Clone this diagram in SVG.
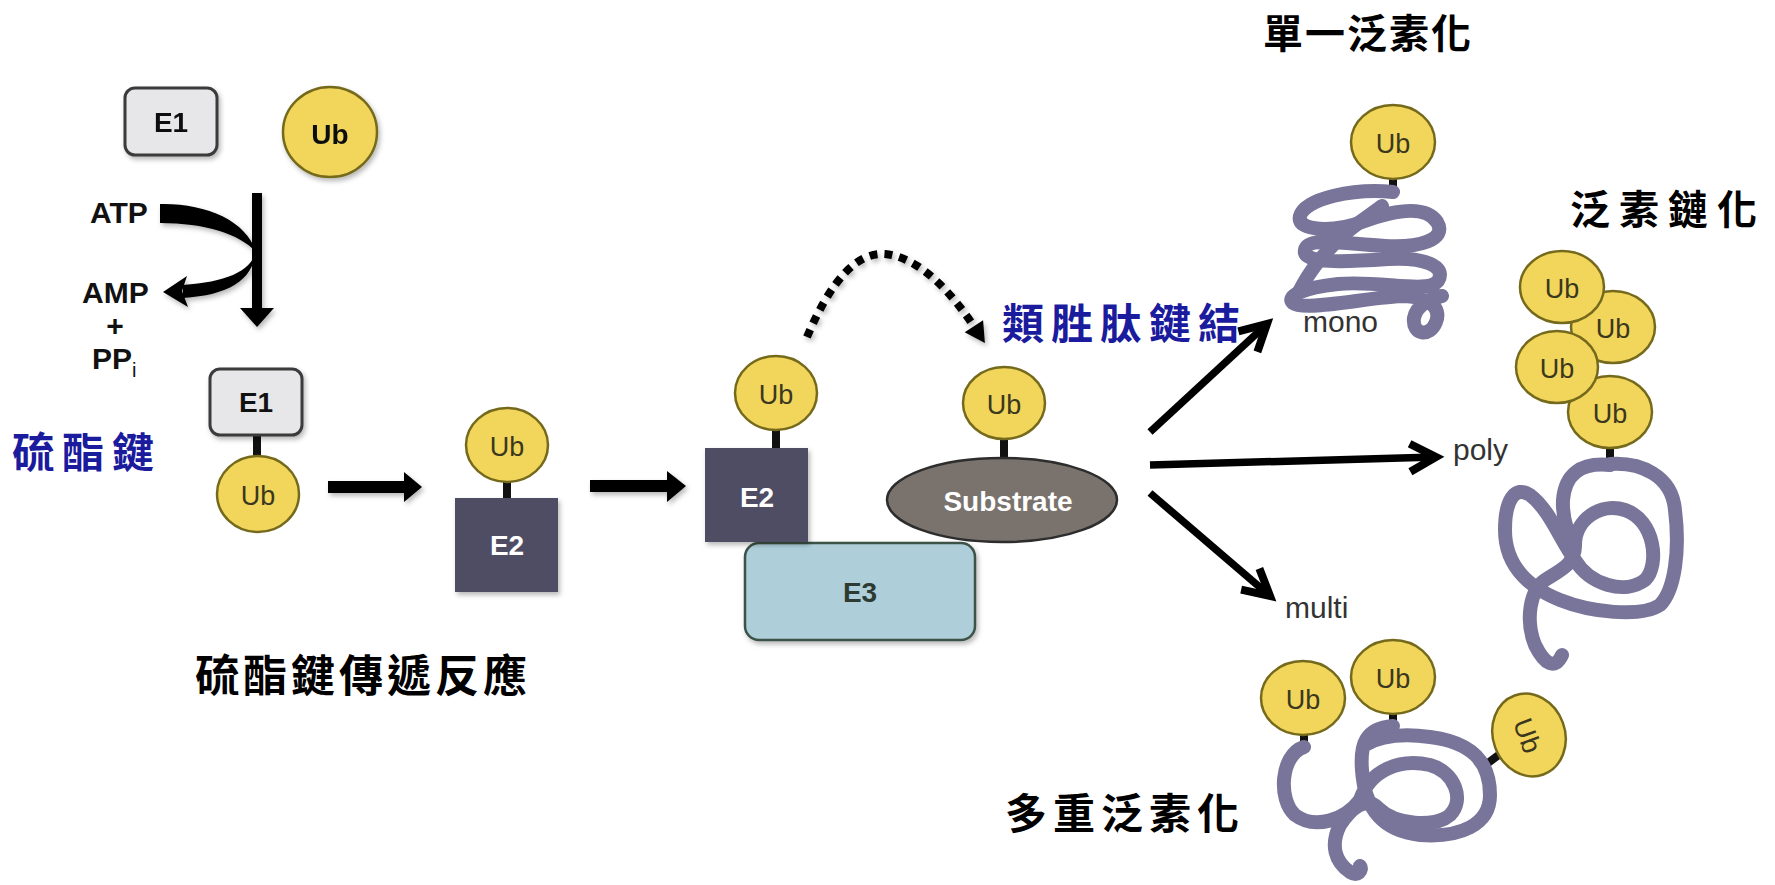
<svg xmlns="http://www.w3.org/2000/svg" width="1775" height="885" viewBox="0 0 1775 885">
  <style>
    .ub{fill:#f2d65c;stroke:#756a1c;stroke-width:2.5}
    .ubt{font-family:"Liberation Sans",Arial,sans-serif;font-size:27px;fill:#3b381e;text-anchor:middle;dominant-baseline:central}
    .stub{stroke:#111;stroke-width:8}
    .e1{fill:#e7e7e9;stroke:#3a3a3a;stroke-width:3}
    .e2{fill:#4f4d64}
    .lbl{font-family:"Liberation Sans",Arial,sans-serif;font-weight:bold;font-size:28px;text-anchor:middle;dominant-baseline:central}
    .chem{font-family:"Liberation Sans",Arial,sans-serif;font-weight:bold;font-size:30px;fill:#111}
    .coil{fill:none;stroke:#79759a;stroke-width:14;stroke-linecap:round;stroke-linejoin:round}
    .cjk{font-family:"Noto Sans CJK TC","Noto Sans CJK SC",sans-serif;font-weight:bold;fill:#000}
    .blue{fill:#1b1b9e}
    .thin{font-family:"Liberation Sans",Arial,sans-serif;font-size:30px;fill:#333}
    .branch{stroke:#000;stroke-width:7.5;fill:none;marker-end:url(#chev)}
  </style>
  <defs>
    <filter id="sh" x="-20%" y="-20%" width="140%" height="150%">
      <feDropShadow dx="2" dy="3" stdDeviation="2.5" flood-color="#000" flood-opacity="0.28"/>
    </filter>
    <marker id="chev" markerUnits="userSpaceOnUse" orient="auto" overflow="visible" refX="0" refY="0" markerWidth="1" markerHeight="1">
      <path d="M-26,-14 L0,0 L-26,14" fill="none" stroke="#000" stroke-width="8"/>
    </marker>
    <marker id="tri" markerUnits="userSpaceOnUse" orient="auto" overflow="visible" refX="0" refY="0" markerWidth="1" markerHeight="1">
      <path d="M-2,-11 L18,0 L-2,11 Z" fill="#000"/>
    </marker>
  </defs>

  <rect width="1775" height="885" fill="#fff"/>

  <!-- free E1 enzyme -->
  <g id="e1-free" filter="url(#sh)">
    <rect class="e1" x="125" y="88" width="92" height="67" rx="10"/>
    <text class="lbl" x="171" y="122" fill="#111">E1</text>
  </g>

  <!-- free ubiquitin -->
  <g id="ub-free" filter="url(#sh)">
    <ellipse class="ub" cx="330" cy="132" rx="47" ry="45"/>
    <text class="lbl" x="330" y="134" font-size="30" fill="#111">Ub</text>
  </g>

  <!-- ATP consumption labels -->
  <g id="atp-labels">
    <text class="chem" x="90" y="223">ATP</text>
    <text class="chem" x="82" y="303">AMP</text>
    <text class="chem" x="115" y="336" font-size="28" text-anchor="middle">+</text>
    <text class="chem" x="92" y="369">PP<tspan font-size="20" font-weight="normal" dy="8">i</tspan></text>
  </g>

  <!-- E1 thioester with Ub -->
  <g id="e1-ub">
    <line class="stub" x1="257" y1="434" x2="257" y2="458"/>
    <rect class="e1" x="210" y="369" width="92" height="66" rx="10" filter="url(#sh)"/>
    <text class="lbl" x="256" y="402" fill="#111">E1</text>
    <ellipse class="ub" cx="258" cy="494" rx="41" ry="38"/>
    <text class="ubt" x="258" y="496">Ub</text>
  </g>

  <!-- E2 carrying Ub -->
  <g id="e2-ub">
    <line class="stub" x1="507" y1="480" x2="507" y2="500"/>
    <ellipse class="ub" cx="507" cy="445" rx="41" ry="37"/>
    <text class="ubt" x="507" y="447">Ub</text>
    <rect class="e2" x="455" y="498" width="103" height="94" filter="url(#sh)"/>
    <text class="lbl" x="507" y="545" fill="#fff">E2</text>
  </g>

  <!-- E2~Ub bound to E3 -->
  <g id="e2-e3">
    <rect x="745" y="543" width="230" height="97" rx="14" fill="#aecfda" stroke="#3d5247" stroke-width="2.5" filter="url(#sh)"/>
    <text class="lbl" x="860" y="592" fill="#2e3b32">E3</text>
    <line class="stub" x1="776" y1="428" x2="776" y2="450"/>
    <ellipse class="ub" cx="776" cy="393" rx="41" ry="37"/>
    <text class="ubt" x="776" y="395">Ub</text>
    <rect class="e2" x="705" y="448" width="103" height="94" filter="url(#sh)"/>
    <text class="lbl" x="757" y="497" fill="#fff">E2</text>
  </g>

  <!-- substrate with attached Ub -->
  <g id="substrate">
    <line class="stub" x1="1004" y1="437" x2="1004" y2="460"/>
    <ellipse class="ub" cx="1004" cy="403" rx="41" ry="36"/>
    <text class="ubt" x="1004" y="405">Ub</text>
    <ellipse cx="1002" cy="500" rx="115" ry="42" fill="#7a736d" stroke="#2d2d2d" stroke-width="2.5"/>
    <text class="lbl" x="1008" y="501" font-size="31" fill="#fff">Substrate</text>
  </g>

  <!-- monoubiquitination -->
  <g id="mono">
    <line class="stub" x1="1393" y1="177" x2="1393" y2="196"/>
    <ellipse class="ub" cx="1393" cy="142" rx="42" ry="37"/>
    <text class="ubt" x="1393" y="144">Ub</text>
    <path class="coil" d="M1393,192 C1355,188 1305,198 1300,216 C1296,232 1335,232 1362,222 C1392,211 1425,204 1437,222 C1448,240 1418,248 1385,246 C1345,244 1308,236 1305,250 C1302,264 1345,262 1388,259 C1424,257 1447,266 1438,281 C1428,294 1380,280 1338,284 C1302,288 1286,296 1293,303 C1304,312 1375,296 1405,296 C1428,297 1442,307 1436,322 C1430,338 1412,335 1414,318 C1416,306 1430,298 1442,296"/>
    <path class="coil" d="M1300,290 C1310,270 1322,256 1340,238 C1355,224 1372,214 1382,206"/>
    <text class="thin" x="1303" y="332">mono</text>
  </g>

  <!-- polyubiquitin chain -->
  <g id="poly">
    <line class="stub" x1="1610" y1="446" x2="1610" y2="466"/>
    <path class="coil" d="M1610,465 C1580,462 1565,475 1563,500 C1562,520 1570,540 1575,545"/>
    <path class="coil" d="M1610,464 C1640,462 1672,475 1675,510 C1680,550 1675,590 1660,605 C1640,618 1590,612 1560,600 C1535,590 1505,570 1505,530 C1505,500 1515,485 1530,495 C1550,510 1560,540 1575,560 C1590,585 1625,595 1645,580 C1660,565 1655,520 1625,510 C1600,502 1575,520 1575,545 C1575,565 1560,570 1545,580 C1530,590 1525,620 1535,645 C1545,665 1555,670 1562,655"/>
    <ellipse class="ub" cx="1610" cy="412" rx="42" ry="36"/>
    <text class="ubt" x="1610" y="414">Ub</text>
    <ellipse class="ub" cx="1613" cy="327" rx="42" ry="36"/>
    <text class="ubt" x="1613" y="329">Ub</text>
    <ellipse class="ub" cx="1557" cy="367" rx="41" ry="36"/>
    <text class="ubt" x="1557" y="369">Ub</text>
    <ellipse class="ub" cx="1562" cy="287" rx="42" ry="36"/>
    <text class="ubt" x="1562" y="289">Ub</text>
    <text class="thin" x="1453" y="460">poly</text>
  </g>

  <!-- multi-monoubiquitination -->
  <g id="multi">
    <line class="stub" x1="1304" y1="733" x2="1304" y2="750"/>
    <line class="stub" x1="1393" y1="712" x2="1393" y2="729"/>
    <line class="stub" x1="1484" y1="766" x2="1500" y2="754"/>
    <path class="coil" d="M1304,747 C1280,755 1278,800 1295,815 C1315,830 1345,820 1360,800"/>
    <path class="coil" d="M1393,726 C1365,728 1360,745 1362,770 C1364,800 1375,830 1420,835 C1460,838 1490,825 1490,795 C1490,760 1470,742 1430,737 C1400,733 1380,736 1365,745"/>
    <path class="coil" d="M1360,800 C1370,770 1400,758 1430,765 C1455,772 1465,800 1450,815 C1435,828 1395,825 1378,808 C1365,795 1350,810 1340,825 C1330,845 1335,862 1350,872 C1358,877 1363,870 1360,866"/>
    <ellipse class="ub" cx="1303" cy="698" rx="42" ry="37"/>
    <text class="ubt" x="1303" y="700">Ub</text>
    <ellipse class="ub" cx="1393" cy="677" rx="42" ry="37"/>
    <text class="ubt" x="1393" y="679">Ub</text>
    <g transform="translate(1529,735) rotate(70)">
      <ellipse class="ub" cx="0" cy="0" rx="42" ry="36"/>
      <text class="ubt" x="0" y="2">Ub</text>
    </g>
    <text class="thin" x="1285" y="618">multi</text>
  </g>

  <!-- connectors -->
  <g id="connectors">
    <!-- ATP → AMP + PPi bent arrow -->
    <g filter="url(#sh)">
      <path d="M160,204 C205,203 246,220 256,252 C240,234 205,223 160,223 Z" fill="#000"/>
      <path d="M256,252 C250,272 225,282 183,285 L183,298 C228,295 252,281 256,252 Z" fill="#000"/>
      <path d="M163,292 L187,276 L182,291 L188,307 Z" fill="#000"/>
      <rect x="252" y="193" width="10" height="118" fill="#000"/>
      <path d="M240,308 L274,308 L257,327 Z" fill="#000"/>
      <!-- E1~Ub → E2~Ub -->
      <rect x="328" y="481" width="78" height="12" fill="#000"/>
      <path d="M404,472 L422,487 L404,502 Z" fill="#000"/>
      <!-- E2~Ub → E2/E3 -->
      <rect x="590" y="480" width="79" height="12" fill="#000"/>
      <path d="M667,471 L686,486 L667,502 Z" fill="#000"/>
    </g>
    <!-- Ub transfer onto substrate -->
    <path d="M807,337 C832,278 858,252 885,254 C918,257 950,290 975,328" fill="none" stroke="#000" stroke-width="8" stroke-dasharray="8 7" marker-end="url(#tri)" filter="url(#sh)"/>
    <!-- outcome branches -->
    <line class="branch" x1="1150" y1="432" x2="1267" y2="324"/>
    <line class="branch" x1="1150" y1="465" x2="1436" y2="457"/>
    <line class="branch" x1="1150" y1="493" x2="1270" y2="596"/>
  </g>

  <!-- captions -->
  <g id="captions">
    <text class="cjk blue" x="12" y="468" font-size="42" letter-spacing="8">硫酯鍵</text>
    <text class="cjk blue" x="1002" y="339" font-size="42" letter-spacing="7">類胜肽鍵結</text>
    <text class="cjk" x="195" y="692" font-size="44" letter-spacing="4">硫酯鍵傳遞反應</text>
    <text class="cjk" x="1263" y="48" font-size="40" letter-spacing="2">單一泛素化</text>
    <text class="cjk" x="1570" y="224" font-size="40" letter-spacing="9">泛素鏈化</text>
    <text class="cjk" x="1005" y="829" font-size="42" letter-spacing="6">多重泛素化</text>
  </g>
</svg>
